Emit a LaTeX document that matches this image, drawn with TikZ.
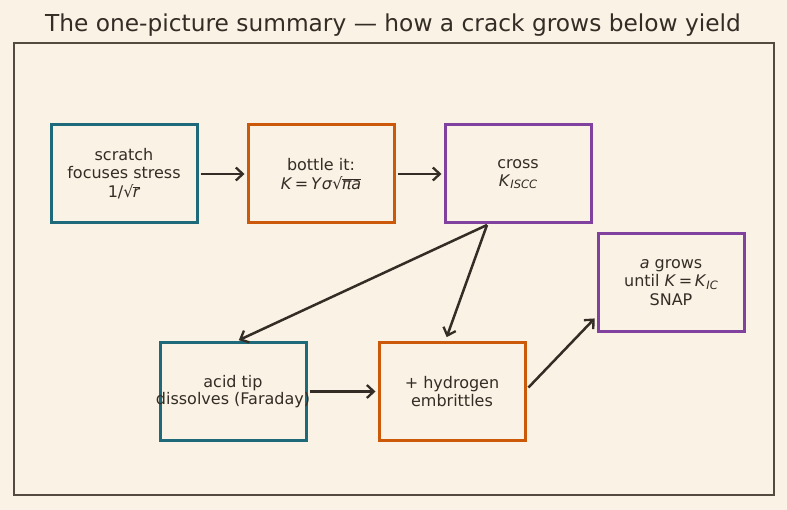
\documentclass[tikz,border=0pt]{standalone}
\usepackage{fontspec}
\setmainfont{DejaVu Sans}
\usetikzlibrary{arrows.meta}
\definecolor{bg}{RGB}{250,242,228}
\definecolor{ink}{RGB}{51,45,38}
\definecolor{frm}{RGB}{85,74,64}
\definecolor{tealc}{RGB}{30,106,122}
\definecolor{orangec}{RGB}{204,88,10}
\definecolor{purplec}{RGB}{128,66,158}
\newcommand{\ovl}[1]{$\overline{\mbox{#1}}$}
\tikzset{
  box/.style={draw, line width=3pt, minimum width=146pt, minimum height=98pt, inner sep=0pt,
    align=center, text=ink, font=\fontsize{16}{17.5}\selectfont},
  tealbox/.style={box, draw=tealc},
  orangebox/.style={box, draw=orangec},
  purplebox/.style={box, draw=purplec},
  conn/.style={draw=ink, line width=2.5pt, -{Straight Barb[length=7pt,width=13pt,line width=2.3pt]}, shorten <=2pt, shorten >=2pt}
}
\begin{document}
\begin{tikzpicture}[x=1pt,y=-1pt]
\fill[bg] (0,0) rectangle (787,510);
\useasboundingbox (0,0) rectangle (787,510);
\node (title) [text=ink, font=\fontsize{23.3}{26}\selectfont] at (393,25) {The one-picture summary — how a crack grows below yield};
\draw[frm, line width=1.3pt] (14,43) rectangle (774,495);
\node[tealbox] (A) at (124,174) {scratch\\focuses stress\\[2pt]1/√\kern-0.05em\ovl{\textit{r}}};
\node[orangebox] (B) at (321,174) {bottle it:\\[1pt]\textit{K}\,=\,\textit{Y}\textit{σ}√\kern-0.05em\ovl{\textit{πa}}};
\node[purplebox] (C) at (518,174) {cross\\\textit{K}\raisebox{-0.25ex}{\fontsize{11.5}{11.5}\selectfont\textit{ISCC}}};
\node[purplebox] (D) at (671,282.5) {\textit{a} grows\\[1pt]until \textit{K}\,=\,\textit{K}\raisebox{-0.25ex}{\fontsize{11.5}{11.5}\selectfont\textit{IC}}\\[1pt]SNAP};
\node[tealbox] (E) at (233,391.5) {acid tip\\\makebox[130pt]{dissolves (Faraday)}};
\node[orangebox] (F) at (452,391.5) {+ hydrogen\\embrittles};
\coordinate (Cb) at (487,225);
\draw[conn] (A) -- (B);
\draw[conn] (B) -- (C);
\draw[conn, shorten <=0pt] (Cb) -- (237,341);
\draw[conn, shorten <=0pt] (Cb) -- (446,339);
\draw[conn] (E) -- (F);
\draw[conn] (527,389) -- (596,317);
\end{tikzpicture}
\end{document}
